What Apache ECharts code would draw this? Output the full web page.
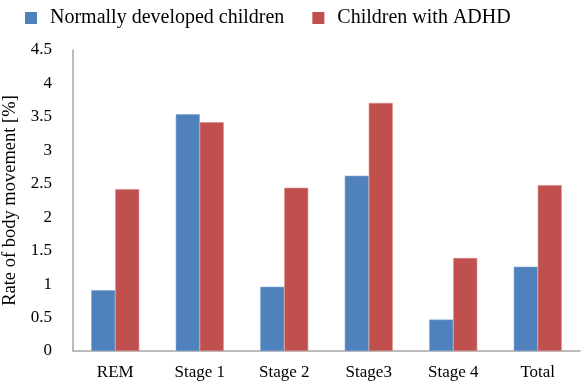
<!DOCTYPE html>
<html>
<head>
<meta charset="utf-8">
<script src="https://cdn.jsdelivr.net/npm/echarts@6/dist/echarts.min.js"></script>
<style>
  html, body { margin: 0; padding: 0; background: #fff; }
  #chart { width: 581px; height: 383px; }
</style>
</head>
<body>
<div id="chart"></div>
<script>
const categories = ['REM', 'Stage 1', 'Stage 2', 'Stage3', 'Stage 4', 'Total'];
const normalValues = [0.91, 3.54, 0.96, 2.62, 0.47, 1.26];
const adhdValues = [2.42, 3.42, 2.44, 3.71, 1.39, 2.48];
const seriesNames = ['Normally developed children', 'Children with ADHD'];

const FONT = 'Liberation Serif';
const BLUE = '#4f81bd';
const RED = '#c0504d';

function draw() {
  const chart = echarts.init(document.getElementById('chart'));

  const option = {
    animation: false,
    textStyle: { fontFamily: FONT },
    legend: {
      data: seriesNames,
      left: 25,
      top: 8,
      padding: 0,
      icon: 'rect',
      itemWidth: 12,
      itemHeight: 12,
      itemGap: 28,
      itemStyle: { borderWidth: 0 },
      selectedMode: false,
      textStyle: { fontFamily: FONT, fontSize: 20, color: '#000', padding: [0, 0, 0, 8] }
    },
    grid: { left: 73, right: 1, top: 50, bottom: 32, outerBoundsMode: 'none' },
    xAxis: {
      type: 'category',
      data: categories,
      axisLine: { lineStyle: { color: '#a6a6a6', width: 1.5 } },
      axisTick: { show: false },
      axisLabel: { color: '#000', fontSize: 17, fontFamily: FONT, margin: 13 }
    },
    yAxis: {
      type: 'value',
      min: 0,
      max: 4.5,
      interval: 0.5,
      name: 'Rate of body movement [%]',
      nameLocation: 'middle',
      nameGap: 41,
      nameTextStyle: { color: '#000', fontSize: 18.5, fontFamily: FONT },
      axisLine: { show: true, lineStyle: { color: '#a6a6a6', width: 1.5 } },
      axisTick: { show: false },
      splitLine: { show: false },
      axisLabel: { color: '#000', fontSize: 17, fontFamily: FONT, margin: 21 }
    },
    series: [
      {
        name: seriesNames[0],
        type: 'bar',
        data: normalValues,
        barWidth: 24,
        barGap: '0%',
        itemStyle: { color: BLUE, borderColor: '#7fa3d1', borderWidth: 0.6 }
      },
      {
        name: seriesNames[1],
        type: 'bar',
        data: adhdValues,
        barWidth: 24,
        barGap: '0%',
        itemStyle: { color: RED, borderColor: '#d88a88', borderWidth: 0.6 }
      }
    ]
  };

  chart.setOption(option);
}

// make sure the serif face is ready before the canvas measures the legend
if (document.fonts && document.fonts.load) {
  document.fonts.load('20px "Liberation Serif"').then(draw, draw);
} else {
  draw();
}
</script>
</body>
</html>
